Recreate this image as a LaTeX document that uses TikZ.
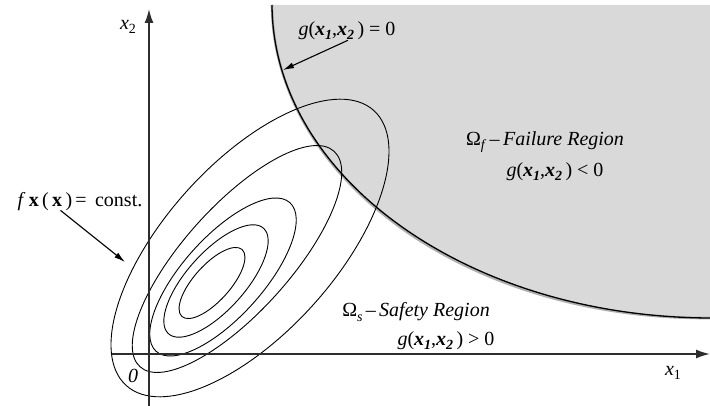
\documentclass[tikz,border=0pt]{standalone}
\usepackage{fontspec}
\setmainfont{Liberation Serif}
\usetikzlibrary{arrows.meta, positioning, calc}
\definecolor{failGray}{RGB}{217, 217, 217}
\definecolor{shadowGray}{RGB}{175, 175, 175}
\definecolor{axisDark}{RGB}{45, 45, 45}
\newcommand{\lowsub}[1]{\raisebox{-0.45ex}{\fontsize{14}{14}\selectfont #1}}
\newcommand{\bx}{\textbf{\textit{x}}}
\newcommand{\gfun}{\textit{g}(\bx\lowsub{\textbf{\textit{1}}},\bx\lowsub{\textbf{\textit{2}}}\,)}

\begin{document}
\begin{tikzpicture}[
    x=1pt, y=1pt,
    font=\fontsize{20}{22}\selectfont,
    axis/.style={-{Latex[length=14pt, width=9pt]}, line width=1.6pt, axisDark},
    contour/.style={line width=0.9pt, black},
    limit/.style={line width=1.3pt, black},
    pointer/.style={-{Latex[length=11pt, width=6pt]}, line width=1.1pt},
    lbl/.style={inner sep=0pt}
]
    \useasboundingbox (0,0) rectangle (710,-406);

    % Failure region: gray area right of the limit state curve
    \coordinate (limTop) at (272,-5);
    \coordinate (limEnd) at (712,-318);
    \fill[failGray] (limTop) .. controls (273,-178) and (469,-318) .. (limEnd) -- (712,-5) -- cycle;
    \draw[shadowGray, line width=2.6pt, shift={(0.5,-2.5)}] (limTop) .. controls (273,-178) and (469,-318) .. (limEnd);
    \draw[limit] (limTop) .. controls (273,-178) and (469,-318) .. (limEnd);

    % Density contours
    \foreach \cx/\cy/\ra/\rb in {212/283/45/18, 216/281/71/29, 223/277/100/40, 237/259/145/53, 250/248/185/85}
        \draw[contour, rotate around={48:(\cx,-\cy)}] (\cx,-\cy) ellipse [x radius=\ra, y radius=\rb];

    % Axes
    \coordinate (xStart) at (112,-354);
    \coordinate (xEnd) at (710,-354);
    \coordinate (yStart) at (149,-406);
    \coordinate (yEnd) at (149,-9);
    \draw[axis] (xStart) -- (xEnd);
    \draw[axis] (yStart) -- (yEnd);

    \node[lbl] (xTwo) at (128,-27) {\textit{x}\lowsub{2}};
    \node[lbl] (xOne) at (673,-373) {\textit{x}\lowsub{1}};
    \node[lbl] (zero) at (133,-376) {\textit{0}};

    % Labels
    \node[lbl] (gZero) at (347,-31) {\gfun\ = 0};
    \node[lbl] (constLbl) at (80,-202) {\textit{f}\,\textbf{x}\,(\,\textbf{x}\,)\,=\, const.};
    \node[lbl] (failTitle) at (545,-142) {Ω\lowsub{\textit{f}}\,–\,\textit{Failure Region}};
    \node[lbl] (failRule) at (555,-172) {\gfun\ < 0};
    \node[lbl] (safeTitle) at (416,-312) {Ω\lowsub{\textit{s}}\,–\,\textit{Safety Region}};
    \node[lbl] (safeRule) at (446,-341) {\gfun\ > 0};

    % Pointers
    \coordinate (gTip) at (283,-70);
    \coordinate (constTip) at (125,-262);
    \draw[pointer] ([xshift=1pt]gZero.south) -- (gTip);
    \draw[pointer] ([xshift=43pt, yshift=1pt]constLbl.south west) -- (constTip);
\end{tikzpicture}
\end{document}
